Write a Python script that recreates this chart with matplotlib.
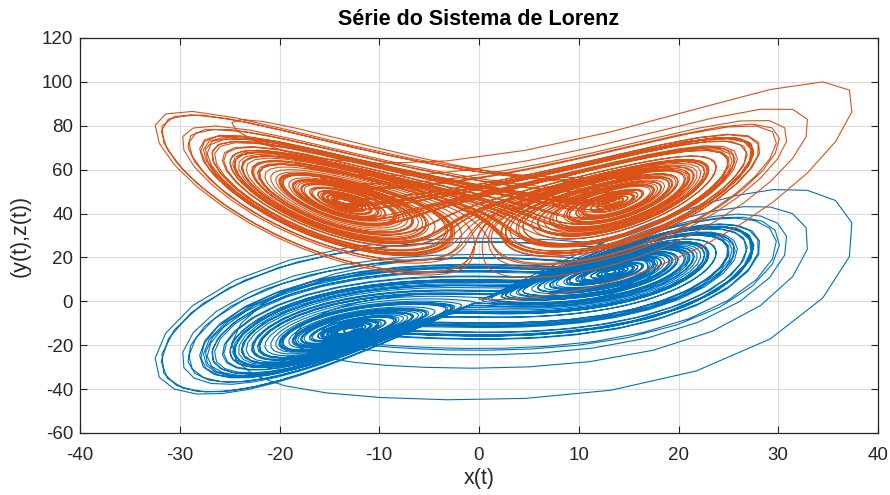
import numpy as np
import matplotlib
matplotlib.use('Agg')
import matplotlib.pyplot as plt

# Lorenz system, integrated with forward Euler (fixed step), as in the source.
# Parameters read off the wing centres (~ +-13.4, +-13.4, 45) and the size
# of the first excursion (x ~ 38, y ~ 51, z ~ 100).
SIGMA = 16.0
RHO = 45.92
BETA = 4.0
START = [0.0, 1.0, 1.0]     # trajectory leaves from near the origin
DT = 0.01
N_STEPS = 6500

X_TICKS = [-40, -30, -20, -10, 0, 10, 20, 30, 40]
Y_TICKS = [-60, -40, -20, 0, 20, 40, 60, 80, 100, 120]

TITLE = 'Série do Sistema de Lorenz'
X_LABEL = 'x(t)'
Y_LABEL = '(y(t),z(t))'

BLUE = '#0072BD'
ORANGE = '#D95319'
AX_COLOR = '#262626'


def lorenz_euler():
    out = np.empty((N_STEPS + 1, 3))
    x, y, z = START
    out[0] = x, y, z
    for i in range(N_STEPS):
        dx = SIGMA * (y - x)
        dy = x * (RHO - z) - y
        dz = x * y - BETA * z
        x, y, z = x + DT * dx, y + DT * dy, z + DT * dz
        out[i + 1] = x, y, z
    return out


traj = lorenz_euler()

plt.rcParams['font.family'] = ['Liberation Sans', 'DejaVu Sans']
plt.rcParams['axes.unicode_minus'] = False

fig = plt.figure(figsize=(8.9, 4.95), dpi=100)
ax = fig.add_axes([80 / 890, 1 - 433 / 495, 798 / 890, 395 / 495])

ax.plot(traj[:, 0], traj[:, 1], color=BLUE, lw=0.8)
ax.plot(traj[:, 0], traj[:, 2], color=ORANGE, lw=0.8)

ax.set_xlim(X_TICKS[0], X_TICKS[-1])
ax.set_ylim(Y_TICKS[0], Y_TICKS[-1])
ax.set_xticks(X_TICKS)
ax.set_yticks(Y_TICKS)
ax.grid(True, color='#dcdcdc', lw=0.8)
ax.set_axisbelow(True)
ax.tick_params(direction='in', top=True, right=True, length=5, width=0.8,
               colors=AX_COLOR, labelsize=13.5)
ax.tick_params(axis='x', pad=10)
ax.tick_params(axis='y', pad=5)
for sp in ax.spines.values():
    sp.set_color(AX_COLOR)
    sp.set_linewidth(0.9)

ax.set_xlabel(X_LABEL, fontsize=15.5, color=AX_COLOR, labelpad=3)
ax.set_ylabel(Y_LABEL, fontsize=15.5, color=AX_COLOR, labelpad=8)
ax.set_title(TITLE, fontsize=15.5, fontweight='bold', color='black', pad=9)

fig.savefig('out.png', dpi=100)
